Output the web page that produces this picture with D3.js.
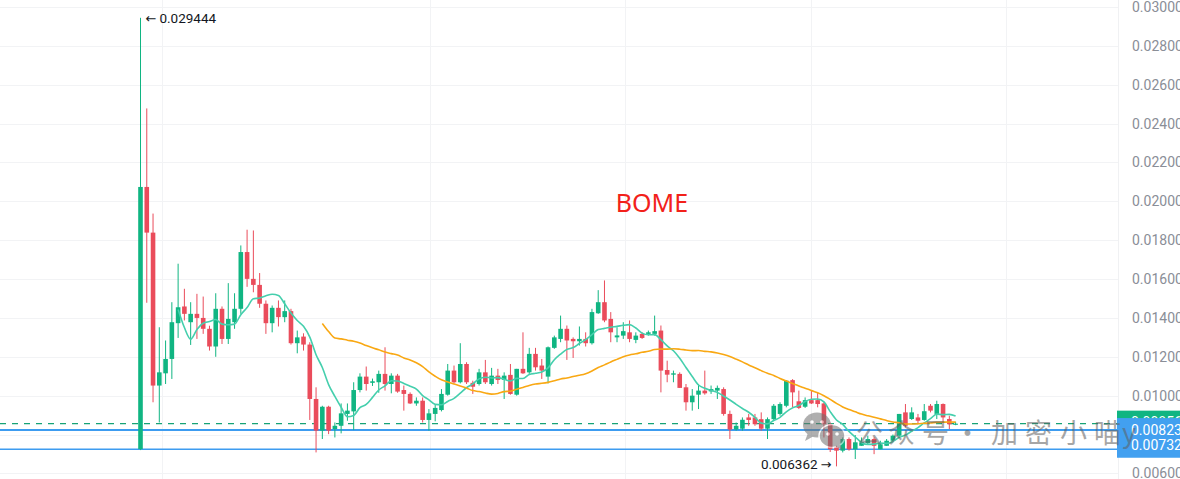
<!DOCTYPE html>
<html>
<head>
<meta charset="utf-8">
<script src="https://cdn.jsdelivr.net/npm/d3@7"></script>
<style>
  html, body { margin: 0; padding: 0; background: #fff; }
  svg { display: block; }
</style>
</head>
<body>
<svg width="1180" height="479"></svg>
<script>
// BOME candles, one per bar
const opens = [
  0.00725, 0.02074, 0.01839, 0.01052, 0.01115, 0.01189, 0.01373, 0.01459, 0.01378, 0.01421,
  0.01400, 0.01344, 0.01253, 0.01447, 0.01292, 0.01378, 0.01447, 0.01739, 0.01601, 0.01570,
  0.01473, 0.01373, 0.01452, 0.01404, 0.01435, 0.01270, 0.01304, 0.01263, 0.00983, 0.00820,
  0.00943, 0.00828, 0.00845, 0.00906, 0.00919, 0.01029, 0.01098, 0.01066, 0.01069, 0.01112,
  0.01060, 0.01103, 0.01029, 0.01009, 0.00960, 0.00974, 0.00875, 0.00906, 0.00926, 0.01005,
  0.01129, 0.01069, 0.01163, 0.01066, 0.01060, 0.01120, 0.01060, 0.01103, 0.01081, 0.01107,
  0.01005, 0.01138, 0.01120, 0.01215, 0.01155, 0.01098, 0.01246, 0.01292, 0.01344, 0.01292,
  0.01280, 0.01292, 0.01270, 0.01424, 0.01481, 0.01395, 0.01300, 0.01309, 0.01326, 0.01287,
  0.01318, 0.01318, 0.01318, 0.01335, 0.01132, 0.01108, 0.01112, 0.01043, 0.00966, 0.01005,
  0.01026, 0.01022, 0.01026, 0.01034, 0.00906, 0.00826, 0.00830, 0.00888, 0.00888, 0.00879,
  0.00830, 0.00879, 0.00906, 0.00948, 0.01080, 0.00971, 0.00943, 0.00977, 0.00977, 0.00960,
  0.00853, 0.00734, 0.00717, 0.00777, 0.00724, 0.00742, 0.00755, 0.00777, 0.00724, 0.00742,
  0.00768, 0.00794, 0.00914, 0.00880, 0.00888, 0.00875, 0.00948, 0.00906, 0.00957, 0.00880, 0.00850
];
const highs = [
  0.029444, 0.02478, 0.01937, 0.01352, 0.01284, 0.01481, 0.01679, 0.01550, 0.01481, 0.01524,
  0.01510, 0.01360, 0.01527, 0.01459, 0.01579, 0.01527, 0.01773, 0.01854, 0.01850, 0.01631,
  0.01490, 0.01464, 0.01490, 0.01490, 0.01447, 0.01335, 0.01321, 0.01275, 0.01043, 0.00948,
  0.00948, 0.00862, 0.00960, 0.00960, 0.01069, 0.01115, 0.01150, 0.01088, 0.01129, 0.01249,
  0.01115, 0.01112, 0.01052, 0.01017, 0.00991, 0.00991, 0.00931, 0.00954, 0.01034, 0.01163,
  0.01155, 0.01270, 0.01172, 0.01077, 0.01138, 0.01184, 0.01143, 0.01138, 0.01120, 0.01163,
  0.01138, 0.01326, 0.01246, 0.01246, 0.01189, 0.01253, 0.01309, 0.01412, 0.01361, 0.01300,
  0.01356, 0.01326, 0.01447, 0.01543, 0.01593, 0.01430, 0.01352, 0.01378, 0.01387, 0.01326,
  0.01326, 0.01335, 0.01412, 0.01361, 0.01180, 0.01129, 0.01120, 0.01060, 0.01034, 0.01060,
  0.01129, 0.01052, 0.01052, 0.01043, 0.00923, 0.00862, 0.00888, 0.00906, 0.00906, 0.00914,
  0.00888, 0.00957, 0.00966, 0.01080, 0.01085, 0.01026, 0.00991, 0.01029, 0.01017, 0.00966,
  0.00860, 0.00742, 0.00785, 0.00785, 0.00797, 0.00785, 0.00794, 0.00785, 0.00768, 0.00777,
  0.00800, 0.00906, 0.00957, 0.00940, 0.00906, 0.00957, 0.00957, 0.00974, 0.00960, 0.00897, 0.00866
];
const lows = [
  0.00720, 0.01478, 0.00966, 0.00862, 0.01060, 0.01086, 0.01297, 0.01387, 0.01261, 0.01292,
  0.01318, 0.01232, 0.01200, 0.01266, 0.01266, 0.01344, 0.01421, 0.01560, 0.01532, 0.01452,
  0.01318, 0.01326, 0.01356, 0.01378, 0.01263, 0.01218, 0.01232, 0.00875, 0.00708, 0.00777,
  0.00802, 0.00785, 0.00806, 0.00871, 0.00823, 0.01017, 0.01026, 0.01050, 0.01015, 0.01026,
  0.01012, 0.01015, 0.00923, 0.00957, 0.00948, 0.00862, 0.00820, 0.00868, 0.00919, 0.01000,
  0.01063, 0.01063, 0.01060, 0.01009, 0.01052, 0.01060, 0.01052, 0.01060, 0.00983, 0.01005,
  0.01000, 0.01112, 0.01112, 0.01129, 0.01086, 0.01063, 0.01241, 0.01275, 0.01184, 0.01194,
  0.01258, 0.01253, 0.01263, 0.01421, 0.01378, 0.01275, 0.01275, 0.01292, 0.01275, 0.01270,
  0.01292, 0.01309, 0.01309, 0.01017, 0.01069, 0.01069, 0.01040, 0.00923, 0.00923, 0.00931,
  0.01005, 0.01009, 0.00983, 0.00897, 0.00777, 0.00820, 0.00820, 0.00845, 0.00845, 0.00820,
  0.00777, 0.00875, 0.00897, 0.00940, 0.00940, 0.00931, 0.00937, 0.00957, 0.00940, 0.00785,
  0.00710, 0.006362, 0.00708, 0.00717, 0.00674, 0.00742, 0.00747, 0.00699, 0.00724, 0.00742,
  0.00760, 0.00785, 0.00837, 0.00875, 0.00853, 0.00871, 0.00914, 0.00880, 0.00862, 0.00828, 0.00848
];
const closes = [
  0.02074, 0.01839, 0.01052, 0.01120, 0.01189, 0.01378, 0.01455, 0.01421, 0.01421, 0.01400,
  0.01344, 0.01253, 0.01447, 0.01292, 0.01395, 0.01447, 0.01739, 0.01601, 0.01570, 0.01473,
  0.01373, 0.01452, 0.01404, 0.01435, 0.01270, 0.01300, 0.01263, 0.00983, 0.00820, 0.00943,
  0.00820, 0.00845, 0.00909, 0.00923, 0.01029, 0.01098, 0.01060, 0.01074, 0.01112, 0.01060,
  0.01103, 0.01021, 0.01009, 0.00960, 0.00974, 0.00875, 0.00909, 0.00937, 0.01009, 0.01129,
  0.01069, 0.01163, 0.01069, 0.01046, 0.01120, 0.01069, 0.01103, 0.01081, 0.01103, 0.01009,
  0.01138, 0.01115, 0.01215, 0.01146, 0.01129, 0.01249, 0.01300, 0.01344, 0.01284, 0.01280,
  0.01292, 0.01270, 0.01430, 0.01481, 0.01387, 0.01326, 0.01310, 0.01332, 0.01292, 0.01309,
  0.01297, 0.01326, 0.01332, 0.01129, 0.01108, 0.01115, 0.01040, 0.00966, 0.01000, 0.01026,
  0.01012, 0.01034, 0.01040, 0.00906, 0.00826, 0.00845, 0.00876, 0.00875, 0.00853, 0.00830,
  0.00879, 0.00948, 0.00957, 0.01077, 0.01017, 0.00937, 0.00977, 0.00960, 0.00957, 0.00853,
  0.00724, 0.00717, 0.00777, 0.00724, 0.00760, 0.00760, 0.00777, 0.00742, 0.00750, 0.00768,
  0.00794, 0.00906, 0.00845, 0.00914, 0.00871, 0.00920, 0.00923, 0.00957, 0.00888, 0.00853, 0.00856
];

const yTicks = [0.006, 0.008, 0.010, 0.012, 0.014, 0.016, 0.018, 0.020, 0.022, 0.024, 0.026, 0.028, 0.030];
// vertical grid positions, in bars
const gridTicks = [3.35, 46.1, 77.2, 107, 138.1];
// horizontal price lines shown on the chart
const priceLines = [0.00823, 0.00732];
const maPeriods = [7, 30];
const watermark = "公众号·加密小喵y";

const svg = d3.select("svg");
const width = 1180;
const height = 479;
const plotRight = 1118;

const green = "#10b582";
const red = "#ea4c5b";

const x = d3.scaleLinear().domain([0, 130]).range([140.5, 955.6]);
const y = d3.scaleLinear().domain([0.006, 0.030]).range([473.4, 7]);

svg.append("rect").attr("width", width).attr("height", height).attr("fill", "#fff");

// grid
const grid = svg.append("g");
grid.selectAll("line.h")
  .data(yTicks)
  .join("line")
  .attr("class", "h")
  .attr("x1", 0).attr("x2", plotRight)
  .attr("y1", d => Math.round(y(d)) + 0.5)
  .attr("y2", d => Math.round(y(d)) + 0.5)
  .attr("stroke", "#f2f3f5");
grid.selectAll("line.v")
  .data(gridTicks)
  .join("line")
  .attr("class", "v")
  .attr("x1", d => Math.round(x(d)) + 0.5)
  .attr("x2", d => Math.round(x(d)) + 0.5)
  .attr("y1", 0).attr("y2", height)
  .attr("stroke", "#f2f3f5");

// price lines
const lastClose = closes[closes.length - 1];
svg.append("line")
  .attr("x1", 0).attr("x2", plotRight)
  .attr("y1", y(lastClose)).attr("y2", y(lastClose))
  .attr("stroke", "#17a377")
  .attr("stroke-width", 1.2)
  .attr("stroke-dasharray", "6,6");
svg.selectAll("line.pl")
  .data(priceLines)
  .join("line")
  .attr("class", "pl")
  .attr("x1", 0).attr("x2", plotRight)
  .attr("y1", (d, i) => y(d) + i * 1.5).attr("y2", (d, i) => y(d) + i * 1.5)
  .attr("stroke", "#3d9cf0")
  .attr("stroke-width", (d, i) => i === 0 ? 2 : 1.3);

// candles
const candles = d3.range(opens.length).map(i => ({
  i, o: opens[i], h: highs[i], l: lows[i], c: closes[i]
}));
const bodyW = 4.6;
const cg = svg.append("g");
cg.selectAll("line")
  .data(candles)
  .join("line")
  .attr("x1", d => x(d.i)).attr("x2", d => x(d.i))
  .attr("y1", d => y(d.h)).attr("y2", d => y(d.l))
  .attr("stroke", d => d.c >= d.o ? green : red)
  .attr("stroke-width", 1);
cg.selectAll("rect")
  .data(candles)
  .join("rect")
  .attr("x", d => x(d.i) - bodyW / 2)
  .attr("width", bodyW)
  .attr("y", d => y(Math.max(d.o, d.c)))
  .attr("height", d => Math.max(1, Math.abs(y(d.o) - y(d.c))))
  .attr("fill", d => d.c >= d.o ? green : red);

// moving averages
function movingAverage(values, n) {
  const out = [];
  for (let i = n - 1; i < values.length; i++) {
    out.push({ i, v: d3.mean(values.slice(i - n + 1, i + 1)) });
  }
  return out;
}
const maColors = ["#45cfad", "#f9a813"];
const line = d3.line().x(d => x(d.i)).y(d => y(d.v)).curve(d3.curveMonotoneX);
maPeriods.forEach((n, k) => {
  svg.append("path")
    .datum(movingAverage(closes, n))
    .attr("d", line)
    .attr("fill", "none")
    .attr("stroke", maColors[k])
    .attr("stroke-width", 1.6);
});

// high / low markers
const fmt6 = d3.format(".6f");
const hiIdx = d3.maxIndex(highs);
const loIdx = d3.minIndex(lows);
const hiText = svg.append("text")
  .attr("x", x(hiIdx) + 5)
  .attr("y", y(highs[hiIdx]) + 5)
  .attr("font-family", "Roboto, sans-serif")
  .attr("font-size", 13.5)
  .attr("fill", "#131722");
hiText.append("tspan").attr("font-family", "'DejaVu Sans', sans-serif").attr("font-size", 13).text("\u2190");
hiText.append("tspan").attr("dx", 3).text(fmt6(highs[hiIdx]));
const loText = svg.append("text")
  .attr("x", x(loIdx) - 5)
  .attr("y", y(lows[loIdx]) + 3)
  .attr("text-anchor", "end")
  .attr("font-family", "Roboto, sans-serif")
  .attr("font-size", 13.5)
  .attr("fill", "#131722");
loText.append("tspan").text(fmt6(lows[loIdx]));
loText.append("tspan").attr("dx", 3).attr("font-family", "'DejaVu Sans', sans-serif").attr("font-size", 13).text("\u2192");

// title
svg.append("text")
  .attr("x", 652)
  .attr("y", 212)
  .attr("text-anchor", "middle")
  .attr("font-family", "'Noto Sans', sans-serif")
  .attr("font-size", 25)
  .attr("fill", "#f2211a")
  .text("BOME");

// right price axis
const axisG = svg.append("g").attr("transform", `translate(${plotRight},0)`);
axisG.append("rect").attr("width", width - plotRight).attr("height", height).attr("fill", "#fff");
axisG.append("line").attr("x1", 0.5).attr("x2", 0.5).attr("y1", 0).attr("y2", height).attr("stroke", "#f0f1f3");
axisG.call(d3.axisRight(y).tickValues(yTicks).tickFormat(fmt6).tickSize(0).tickPadding(14))
  .call(g => g.select(".domain").remove())
  .call(g => g.selectAll("text")
    .attr("font-family", "Roboto, sans-serif")
    .attr("font-size", 14)
    .attr("fill", "#8a8e97"));

// axis price tags
axisG.append("rect")
  .attr("x", -1).attr("y", y(lastClose) - 13)
  .attr("width", 63).attr("height", 22)
  .attr("fill", green);
axisG.append("text")
  .attr("x", 13).attr("y", y(lastClose) + 3)
  .attr("font-family", "Roboto, sans-serif").attr("font-size", 14)
  .attr("fill", "#fff")
  .text(fmt6(lastClose));
axisG.append("rect")
  .attr("x", -1).attr("y", y(priceLines[0]) - 12)
  .attr("width", 63).attr("height", y(priceLines[1]) - y(priceLines[0]) + 22)
  .attr("fill", "#42a0f0");
axisG.selectAll("text.tag")
  .data(priceLines)
  .join("text")
  .attr("class", "tag")
  .attr("x", 13)
  .attr("y", (d, i) => i === 0 ? y(d) + 5 : y(d) + 2)
  .attr("font-family", "Roboto, sans-serif").attr("font-size", 14)
  .attr("fill", "#fff")
  .text(d => d3.format(".5f")(d));

// watermark
const wm = svg.append("g").attr("opacity", 0.55);
wm.append("ellipse").attr("cx", 817).attr("cy", 425).attr("rx", 14).attr("ry", 12.5).attr("fill", "#6f6f6f");
wm.append("ellipse").attr("cx", 832).attr("cy", 436).attr("rx", 13).attr("ry", 11.5).attr("fill", "#6f6f6f")
  .attr("stroke", "#fff").attr("stroke-width", 1.5);
wm.append("path").attr("d", "M808,433 L805,441 L814,436 Z").attr("fill", "#6f6f6f");
wm.append("path").attr("d", "M840,444 L843,450 L835,446 Z").attr("fill", "#6f6f6f");
[[812, 422], [822, 422], [828, 434], [837, 434]].forEach(p => {
  wm.append("circle").attr("cx", p[0]).attr("cy", p[1]).attr("r", 1.8).attr("fill", "#fff");
});
// one glyph per slot so the spacing follows the picture
const wmX = [856, 888, 922, 954, 991, 1025, 1060, 1094, 1122];
wm.append("text")
  .attr("y", 443)
  .attr("font-family", "'Noto Sans CJK SC', sans-serif")
  .attr("font-size", 27)
  .attr("fill", "#5f5f5f")
  .selectAll("tspan")
  .data(Array.from(watermark))
  .join("tspan")
  .attr("x", (d, i) => wmX[i])
  .text(d => d);
</script>
</body>
</html>
